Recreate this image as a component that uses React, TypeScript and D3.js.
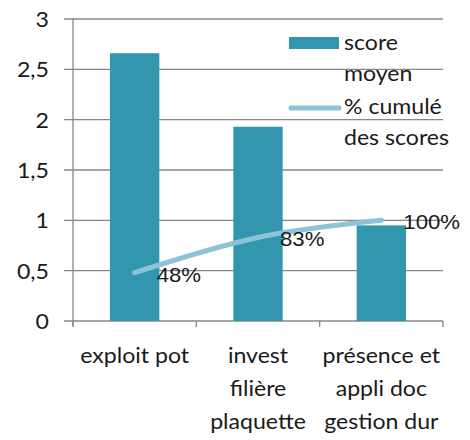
import React from "react";
import * as d3 from "d3";

const categories: string[][] = [
  ["exploit pot"],
  ["invest", "filière", "plaquette"],
  ["présence et", "appli doc", "gestion dur"],
];
const scores: number[] = [2.66, 1.93, 0.95];
const cumulPct: number[] = [0.48, 0.83, 1.0];
const cumulLabels: string[] = ["48%", "83%", "100%"];
const yTicks: number[] = [0, 0.5, 1, 1.5, 2, 2.5, 3];
const legendBar: string[] = ["score", "moyen"];
const legendLine: string[] = ["% cumulé", "des scores"];

const W = 470;
const H = 440;
const M = { left: 73, right: 27, top: 19, bottom: 119 };
const BAR = "#3296AE";
const LINE = "#8CC3D6";
const GRID = "#878787";
const FONT = "Lato, 'Liberation Sans', sans-serif";
const FS = 21;
const SX = 1.1;
const TXT = "#1a1a1a";

function T(props: {
  x: number;
  y: number;
  anchor?: "start" | "middle" | "end";
  size?: number;
  sx?: number;
  family?: string;
  children: React.ReactNode;
}) {
  const { x, y, anchor = "start", size = FS, sx = SX, family = FONT, children } = props;
  return (
    <text
      transform={`translate(${x},${y}) scale(${sx},1)`}
      textAnchor={anchor}
      fontSize={size}
      fontFamily={family}
      fill={TXT}
    >
      {children}
    </text>
  );
}

export default function App() {
  const x = d3
    .scaleBand<number>()
    .domain(d3.range(categories.length))
    .range([M.left, W - M.right])
    .paddingInner(0.6)
    .paddingOuter(0.3);
  const y = d3.scaleLinear().domain([0, 3]).range([H - M.bottom, M.top]);
  const step = (W - M.right - M.left) / categories.length;
  const cx = (i: number) => (x(i) as number) + x.bandwidth() / 2;
  const line = d3
    .line<number>()
    .x((_, i) => cx(i))
    .y((d) => y(d))
    .curve(d3.curveCatmullRom.alpha(0.5));

  return (
    <svg
      width={W}
      height={H}
      style={{ position: "absolute", left: 0, top: 0, background: "#fff" }}
    >
      {yTicks.map((t) => (
        <g key={t}>
          <line x1={M.left - 9} x2={W - M.right} y1={y(t)} y2={y(t)} stroke={GRID} strokeWidth={1.3} />
          <T x={M.left - 24} y={y(t) + 8} anchor="end">
            {String(t).replace(".", ",")}
          </T>
        </g>
      ))}
      <line x1={M.left} x2={M.left} y1={M.top} y2={y(0) + 5} stroke={GRID} strokeWidth={1.3} />
      {d3.range(categories.length + 1).map((i) => (
        <line
          key={i}
          x1={M.left + i * step}
          x2={M.left + i * step}
          y1={y(0)}
          y2={y(0) + 6}
          stroke={GRID}
          strokeWidth={1.3}
        />
      ))}
      {scores.map((s, i) => (
        <rect key={i} x={x(i)} y={y(s)} width={x.bandwidth()} height={y(0) - y(s)} fill={BAR} />
      ))}
      <path d={line(cumulPct) || ""} fill="none" stroke={LINE} strokeWidth={5} strokeLinecap="round" />
      {cumulPct.map((p, i) => (
        <T key={i} x={cx(i) + 22} y={y(p) + 9} size={20} sx={1.11} family="'Liberation Sans', Arial, sans-serif">
          {cumulLabels[i]}
        </T>
      ))}
      {categories.map((lines, i) =>
        lines.map((l, j) => (
          <T key={i + "-" + j} x={M.left + (i + 0.5) * step} y={363 + j * 33} anchor="middle">
            {l}
          </T>
        ))
      )}
      <rect x={289} y={37} width={50} height={12} fill={BAR} />
      {legendBar.map((l, j) => (
        <T key={"lb" + j} x={344} y={50 + j * 31}>
          {l}
        </T>
      ))}
      <line x1={291} x2={339} y1={108} y2={108} stroke={LINE} strokeWidth={5} strokeLinecap="round" />
      {legendLine.map((l, j) => (
        <T key={"ll" + j} x={344} y={114 + j * 31}>
          {l}
        </T>
      ))}
    </svg>
  );
}
